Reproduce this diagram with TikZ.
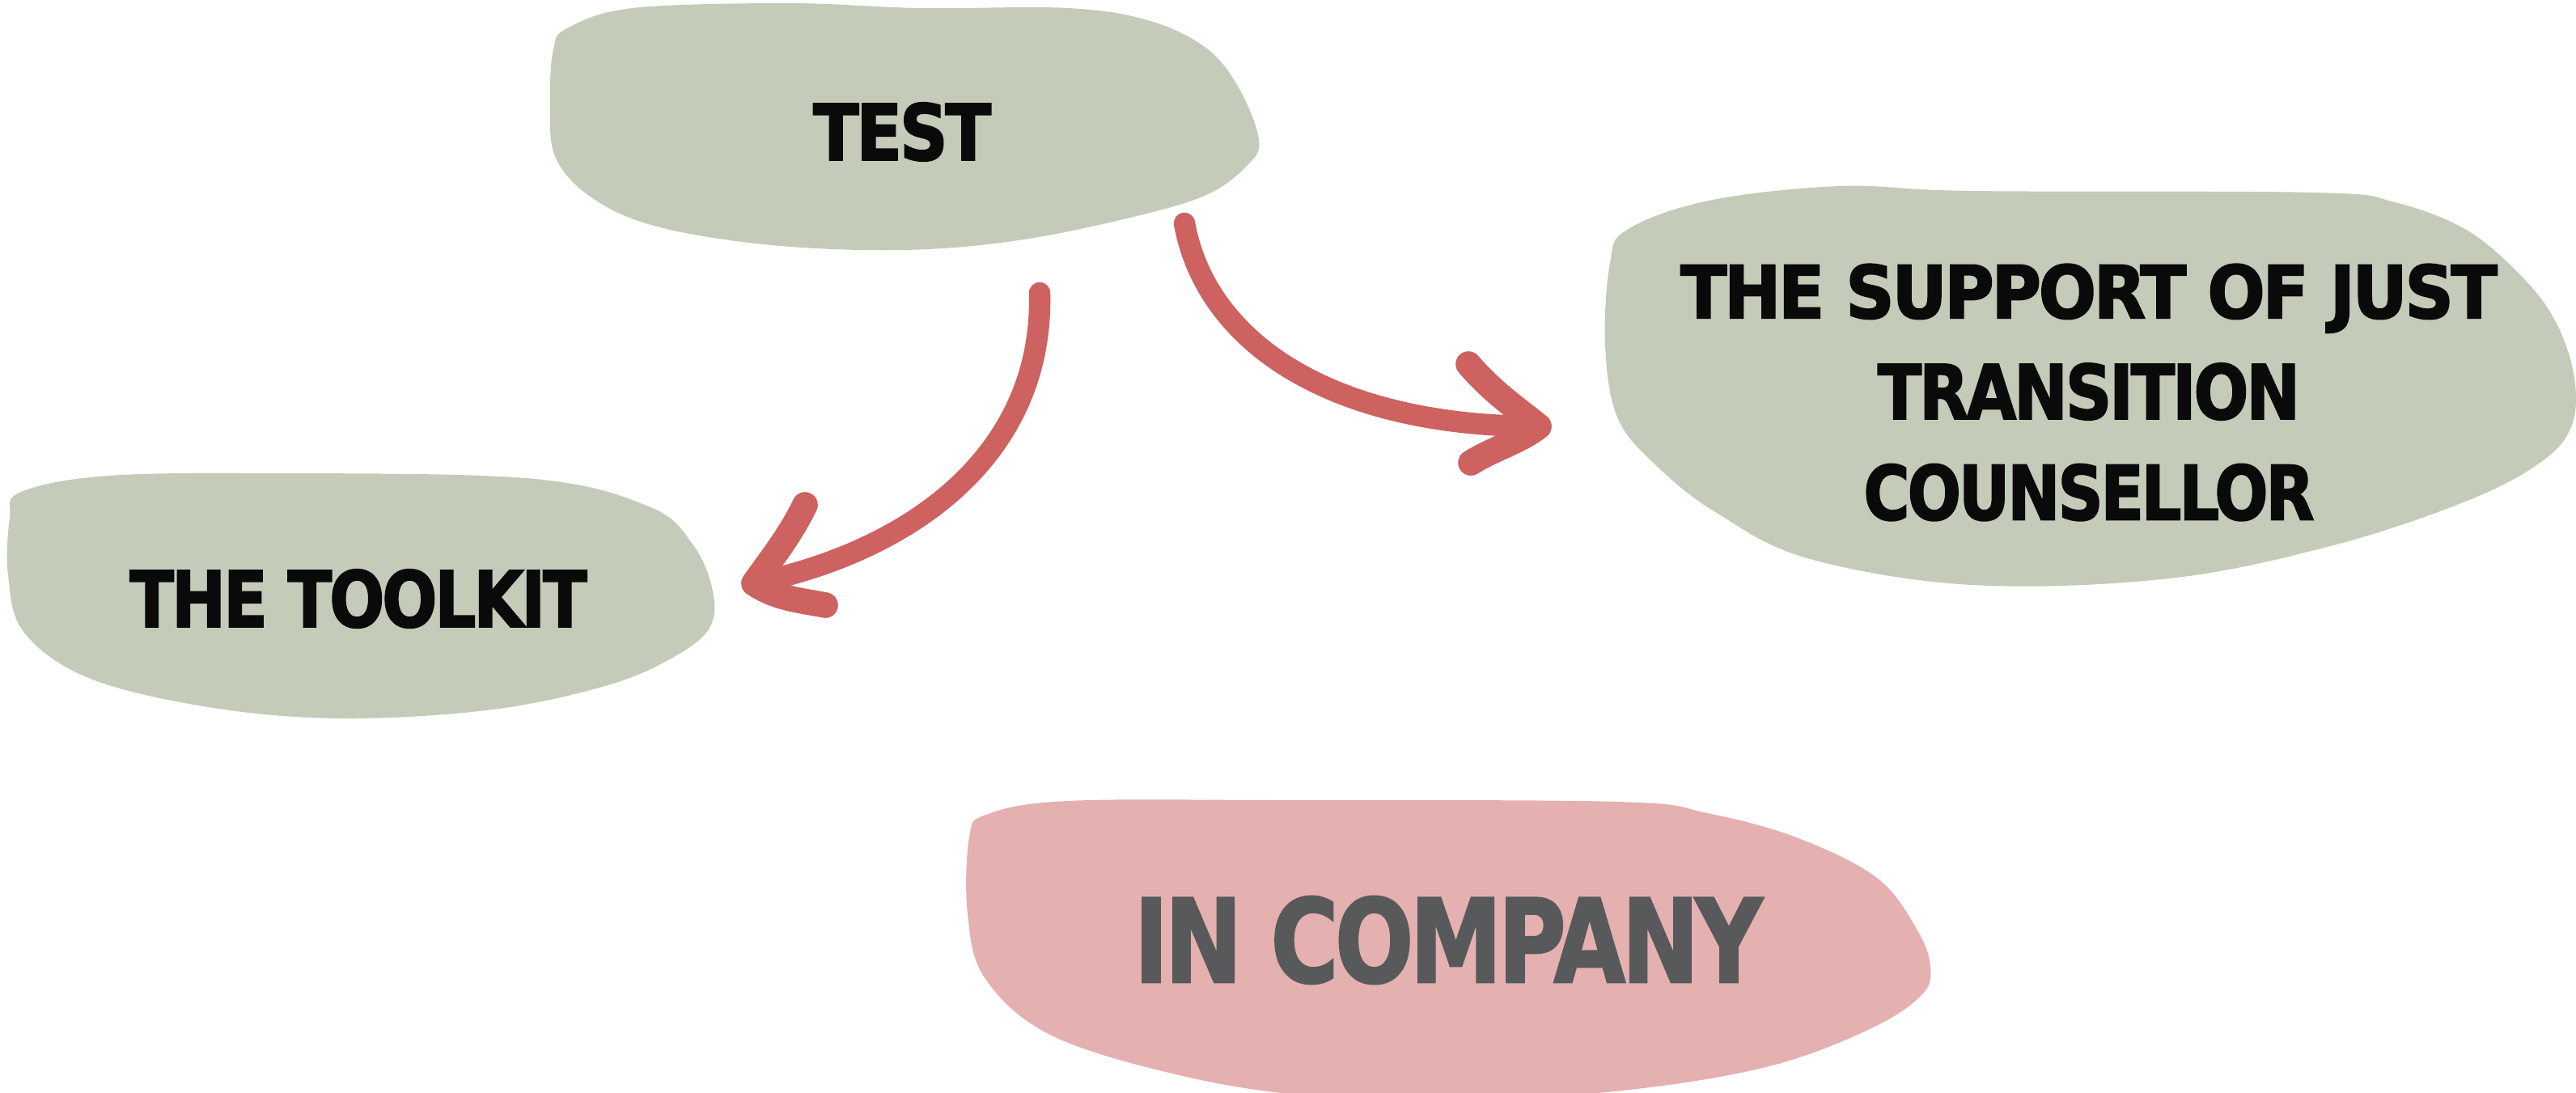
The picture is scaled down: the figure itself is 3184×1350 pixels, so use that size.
\documentclass[tikz,border=0pt]{standalone}
\usepackage{fontspec}
\usepackage{graphicx}
\newfontfamily\lab{DejaVu Sans}[UprightFont={* Bold},UprightFeatures={FakeBold=2},LetterSpace=-4]
\definecolor{sage}{HTML}{C4CBB9}
\definecolor{rose}{HTML}{E5B0B0}
\definecolor{brick}{HTML}{CD6260}
\definecolor{ink}{HTML}{0A0A0A}
\definecolor{slate}{HTML}{58595B}
\begin{document}
\begin{tikzpicture}[x=0.01cm,y=-0.01cm,
  blobA/.style={fill=sage,draw=none},
  blobB/.style={fill=rose,draw=none},
  label/.style={inner sep=0pt,font=\lab,text=ink,align=center},
  stroke/.style={draw=brick,line width=7.5pt,line cap=round,line join=round},
  barb/.style={draw=brick,line width=9pt,line cap=round,line join=round}]
\useasboundingbox (0,0) rectangle (3184,1350);
% blobs
\fill[blobA] plot[smooth cycle,tension=0.6] coordinates {
 (684,61) (701,35) (782,10) (975,4) (1137,10) (1320,10) (1422,26) (1493,61)
 (1533,112) (1556,173) (1543,203) (1493,240) (1401,268) (1259,297) (1117,309)
 (954,303) (812,280) (731,244) (686,193) (680,122)};
\fill[blobA] plot[smooth cycle,tension=0.6] coordinates {
 (12,640) (24,609) (122,589) (305,585) (650,591) (802,626) (857,674) (881,731)
 (877,776) (833,812) (751,847) (609,877) (426,888) (264,875) (112,839) (30,782) (10,711)};
\fill[blobA] plot[smooth cycle,tension=0.6] coordinates {
 (1990,325) (2011,284) (2112,248) (2275,230) (2437,236) (2860,238) (2960,250)
 (3050,285) (3120,345) (3160,400) (3182,467) (3178,528) (3138,573) (3047,620) (2884,674)
 (2681,715) (2437,723) (2234,690) (2122,634) (2051,579) (2000,518) (1984,427)};
\fill[blobB] plot[smooth cycle,tension=0.6] coordinates {
 (1198,1035) (1219,1007) (1320,990) (1584,989) (2000,991) (2110,1005) (2220,1035)
 (2320,1085) (2370,1150) (2386,1195) (2376,1229) (2315,1270) (2194,1316) (2031,1345)
 (1828,1360) (1625,1355) (1462,1330) (1300,1280) (1218,1210) (1196,1130)};
% labels
\node[label] (test) at (1115,163) {\resizebox{2.20cm}{0.71cm}{TEST}};
\node[label] (toolkit) at (443,740) {\resizebox{5.65cm}{0.71cm}{THE TOOLKIT}};
\node[label,font=\lab\fontsize{10pt}{35.43pt}\selectfont] (support) at (2582,485)
 {\resizebox{10.09cm}{0.67cm}{THE SUPPORT OF JUST}\\
  \resizebox{5.22cm}{0.69cm}{TRANSITION}\\
  \resizebox{5.57cm}{0.69cm}{COUNSELLOR}};
\node[label,text=slate] (company) at (1790,1162) {\resizebox{7.76cm}{1.06cm}{IN COMPANY}};
% arrow anchors
\coordinate (s1) at (1285,362);
\coordinate (t1) at (932,721);
\coordinate (b1u) at (995,624);
\coordinate (b1d) at (1020,748);
\coordinate (s2) at (1464,276);
\coordinate (t2) at (1902,527);
\coordinate (b2u) at (1815,450);
\coordinate (b2d) at (1818,572);
% arrows
\draw[stroke] (s1) .. controls (1290,560) and (1130,680) .. (t1);
\draw[barb] (b1u) .. controls (975,665) and (950,695) .. (t1) .. controls (960,740) and (990,742) .. (b1d);
\draw[stroke] (s2) .. controls (1490,420) and (1640,527) .. (t2);
\draw[barb] (b2u) .. controls (1845,485) and (1875,505) .. (t2) .. controls (1880,545) and (1845,555) .. (b2d);
\end{tikzpicture}
\end{document}
